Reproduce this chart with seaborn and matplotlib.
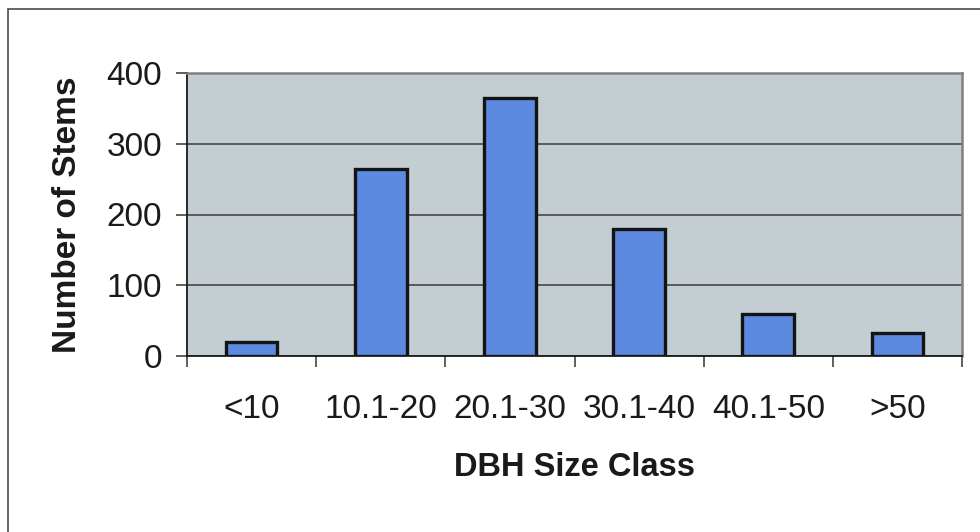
import matplotlib
matplotlib.use("Agg")
import matplotlib.pyplot as plt
from matplotlib.patches import Rectangle
import seaborn as sns
import pandas as pd

# Stem counts per diameter-at-breast-height class
size_classes = ["<10", "10.1-20", "20.1-30", "30.1-40", "40.1-50", ">50"]
stem_counts = [20, 264, 364, 179, 59, 32]
y_ticks = [0, 100, 200, 300, 400]

df = pd.DataFrame({"DBH Size Class": size_classes, "Number of Stems": stem_counts})

sns.set_style("white")
plt.rcParams["font.family"] = ["Liberation Sans", "DejaVu Sans"]

W, H = 980, 532
fig = plt.figure(figsize=(W / 100, H / 100), dpi=100)
fig.patch.set_facecolor("white")

# Chart-area frame (runs off the right and bottom edges)
fig.add_artist(Rectangle((8 / W, -0.05), 1.1, (H - 9) / H + 0.05,
                         transform=fig.transFigure, fill=False,
                         edgecolor="#4a4a4a", linewidth=1.2))

ax = fig.add_axes([187 / W, (H - 356) / H, (962 - 187) / W, (356 - 73) / H])
ax.set_facecolor("#c4cdd2")

sns.barplot(data=df, x="DBH Size Class", y="Number of Stems", ax=ax,
            color="#5b8ae0", edgecolor="#141414", linewidth=2.4,
            width=0.4, saturation=1)

ax.set_ylim(0, 400)
ax.set_xlim(-0.5, len(size_classes) - 0.5)
ax.set_yticks(y_ticks)
ax.set_yticklabels([str(v) for v in y_ticks])

# Horizontal gridlines behind the bars
ax.set_axisbelow(True)
ax.yaxis.grid(True, color="#3a3a3a", linewidth=1.1)
ax.xaxis.grid(False)

# Category labels centred, tick marks at category boundaries
ax.set_xticks(range(len(size_classes)))
ax.set_xticklabels(size_classes)
ax.set_xticks([i - 0.5 for i in range(len(size_classes) + 1)], minor=True)
ax.tick_params(axis="x", which="major", length=0, pad=27, labelsize=24,
               labelcolor="#1a1a1a")
ax.tick_params(axis="x", which="minor", length=8, width=1.1, color="#333333",
               direction="out", bottom=True)
ax.tick_params(axis="y", which="major", length=8, width=1.1, color="#333333",
               direction="out", left=True, pad=10, labelsize=24,
               labelcolor="#1a1a1a")

for side in ["left", "bottom"]:
    ax.spines[side].set_color("#1a1a1a")
    ax.spines[side].set_linewidth(1.3)
for side in ["top", "right"]:
    ax.spines[side].set_visible(True)
    ax.spines[side].set_color("#808080")
    ax.spines[side].set_linewidth(1.8)

ax.set_xlabel("DBH Size Class", fontsize=23.5, fontweight="bold",
              color="#1a1a1a", labelpad=20)
ax.set_ylabel("Number of Stems", fontsize=24, fontweight="bold",
              color="#1a1a1a", labelpad=17)

fig.savefig("out.png", dpi=100, facecolor="white")
